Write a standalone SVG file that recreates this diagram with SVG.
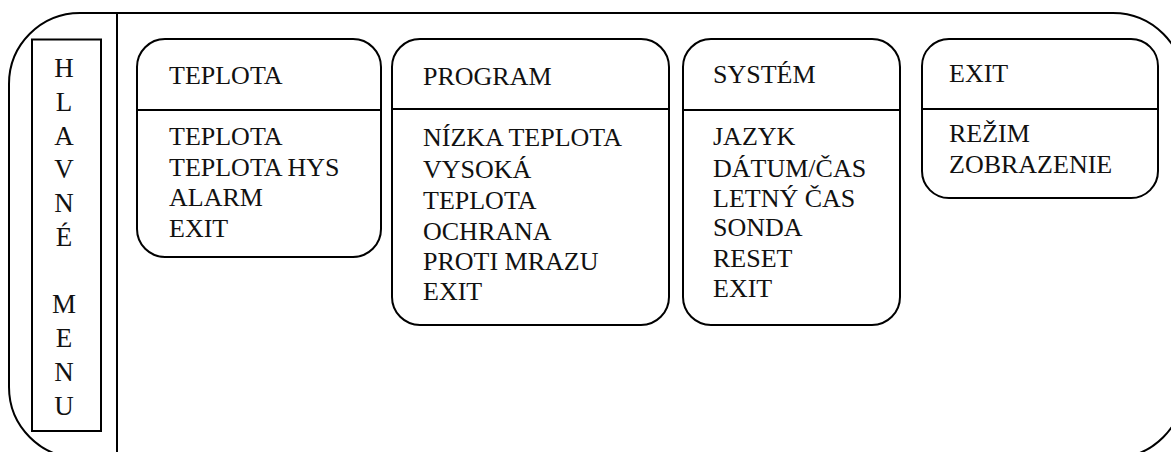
<svg xmlns="http://www.w3.org/2000/svg" width="1171" height="452" viewBox="0 0 1171 452" font-family="Liberation Serif, DejaVu Serif, serif">
<style>
.ln{fill:none;stroke:#000;stroke-width:2}
.bx{fill:#fff;stroke:#000;stroke-width:2}
text{font-size:26px;fill:#111}
.v{font-size:27px;text-anchor:middle}
</style>
<rect width="1171" height="452" fill="#fff"/>
<g id="frame">
<rect class="ln" x="9" y="13" width="1175" height="445" rx="71" ry="71"/>
<line class="ln" x1="117" y1="13" x2="117" y2="452"/>
</g>
<g id="hlavne-menu" font-family="Liberation Serif, serif">
<rect class="bx" x="32" y="39.5" width="69" height="391.5"/>
<text class="v" x="64" y="77">H</text>
<text class="v" x="64" y="111">L</text>
<text class="v" x="64" y="145">A</text>
<text class="v" x="64" y="178">V</text>
<text class="v" x="64" y="212">N</text>
<text class="v" x="64" y="246">É</text>
<text class="v" x="64" y="313">M</text>
<text class="v" x="64" y="347">E</text>
<text class="v" x="64" y="381">N</text>
<text class="v" x="64" y="415">U</text>
</g>
<g id="teplota" font-family="Liberation Serif, serif">
<rect class="bx" x="137" y="39" width="244" height="218" rx="28"/>
<line class="ln" x1="137" y1="110" x2="381" y2="110"/>
<text x="169" y="84">TEPLOTA</text>
<text x="169" y="145">TEPLOTA</text>
<text x="169" y="176">TEPLOTA HYS</text>
<text x="169" y="206">ALARM</text>
<text x="169" y="237">EXIT</text>
</g>
<g id="program" font-family="Liberation Serif, serif">
<rect class="bx" x="392" y="39" width="277" height="286" rx="28"/>
<line class="ln" x1="392" y1="109" x2="669" y2="109"/>
<text x="423" y="85">PROGRAM</text>
<text x="423" y="146">NÍZKA TEPLOTA</text>
<text x="423" y="178">VYSOKÁ</text>
<text x="423" y="209">TEPLOTA</text>
<text x="423" y="240">OCHRANA</text>
<text x="423" y="270">PROTI MRAZU</text>
<text x="423" y="300">EXIT</text>
</g>
<g id="system" font-family="Liberation Serif, serif">
<rect class="bx" x="683" y="39" width="217" height="286" rx="28"/>
<line class="ln" x1="683" y1="110" x2="900" y2="110"/>
<text x="713" y="83">SYSTÉM</text>
<text x="713" y="145">JAZYK</text>
<text x="713" y="177">DÁTUM/ČAS</text>
<text x="713" y="207">LETNÝ ČAS</text>
<text x="713" y="236">SONDA</text>
<text x="713" y="267">RESET</text>
<text x="713" y="297">EXIT</text>
</g>
<g id="exit" font-family="Liberation Serif, serif">
<rect class="bx" x="922" y="39" width="236" height="159" rx="27"/>
<line class="ln" x1="922" y1="109" x2="1158" y2="109"/>
<text x="949" y="82">EXIT</text>
<text x="949" y="142">REŽIM</text>
<text x="949" y="173">ZOBRAZENIE</text>
</g>
<g id="connectors"></g>
</svg>
